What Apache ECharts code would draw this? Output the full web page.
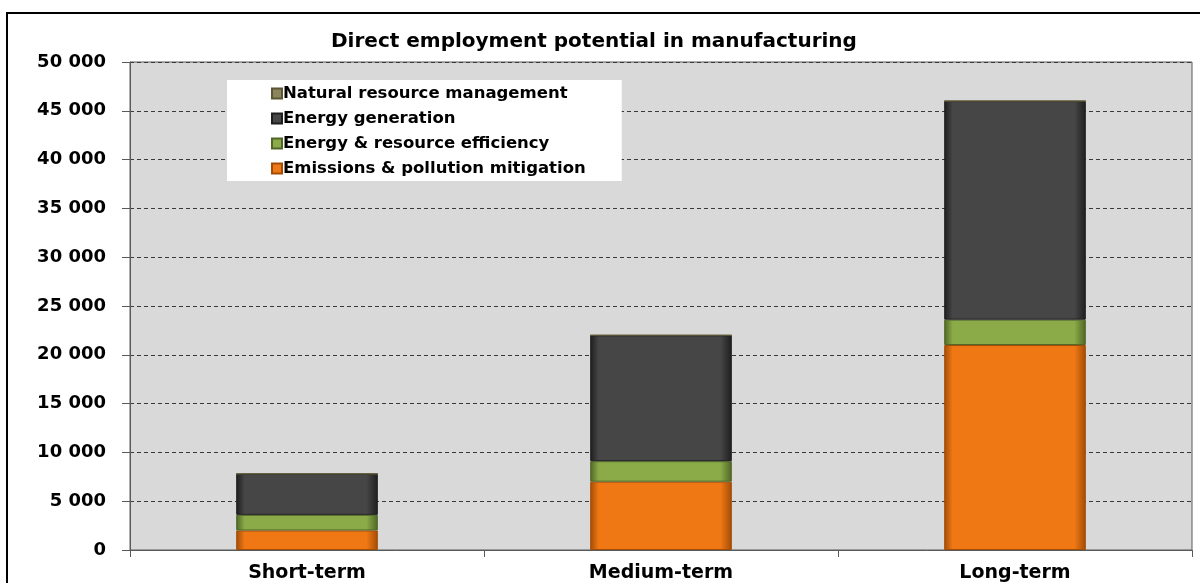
<!DOCTYPE html>
<html>
<head>
<meta charset="utf-8">
<script src="https://cdn.jsdelivr.net/npm/echarts@6/dist/echarts.min.js"></script>
<style>
  html, body { margin: 0; padding: 0; background: #fff; }
  #chart { width: 1200px; height: 583px; }
</style>
</head>
<body>
<div id="chart"></div>
<script>
  // categories and stacked values
  var categories = ['Short-term', 'Medium-term', 'Long-term'];
  var emissions = [2000, 7000, 21000];
  var efficiency = [1600, 2100, 2600];
  var generation = [4200, 12900, 22400];
  var naturalRes = [0, 0, 0];
  var yTicks = { min: 0, max: 50000, step: 5000 };

  // wide bold face, the source text looks stretched sideways
  var font = '"DejaVu Sans", "Noto Sans", sans-serif';

  // fake bevel: darker edges left/right
  function bevel(c, dark) {
    return {
      type: 'linear', x: 0, y: 0, x2: 1, y2: 0,
      colorStops: [
        { offset: 0, color: dark },
        { offset: 0.06, color: c },
        { offset: 0.92, color: c },
        { offset: 1, color: dark }
      ]
    };
  }

  function bar(name, data, c, dark) {
    return {
      name: name,
      type: 'bar',
      stack: 'total',
      barWidth: '40%',
      data: data,
      itemStyle: { color: bevel(c, dark), borderColor: dark, borderWidth: 1 },
      emphasis: { disabled: true }
    };
  }

  function fmt(v) {
    return String(v).replace(/\B(?=(\d{3})+(?!\d))/g, ' ');
  }

  var chart = echarts.init(document.getElementById('chart'));
  chart.setOption({
    animation: false,
    textStyle: { fontFamily: font },
    color: ['#f07814', '#8aab48', '#464646', '#8c845a'],
    title: {
      text: 'Direct employment potential in manufacturing',
      left: 326,
      top: 27,
      textStyle: { fontSize: 20, fontWeight: 'bold', color: '#000', fontFamily: font }
    },
    graphic: [{
      type: 'rect',
      shape: { x: 7, y: 13, width: 1200, height: 600 },
      style: { fill: 'none', stroke: '#000', lineWidth: 2 },
      z: 100
    }],
    legend: {
      orient: 'vertical',
      left: 227,
      top: 80,
      backgroundColor: '#fff',
      padding: [5, 36, 4, 44],
      itemWidth: 10,
      itemHeight: 10,
      itemGap: 8,
      icon: 'rect',
      data: ['Natural resource management', 'Energy generation',
             'Energy & resource efficiency', 'Emissions & pollution mitigation'],
      textStyle: { fontSize: 16.5, fontWeight: 'bold', color: '#000', fontFamily: font, padding: [0, 0, 0, -4] }
    },
    grid: {
      left: 130, right: 8, top: 62, bottom: 32,
      show: true,
      backgroundColor: '#d9d9d9',
      borderColor: '#5a5a5a',
      borderWidth: 1
    },
    xAxis: {
      type: 'category',
      data: categories,
      axisLine: { lineStyle: { color: '#5a5a5a' } },
      axisTick: { show: true, length: 7, lineStyle: { color: '#5a5a5a' } },
      axisLabel: { fontSize: 19, fontWeight: 'bold', color: '#000', margin: 14 }
    },
    yAxis: {
      type: 'value',
      min: yTicks.min, max: yTicks.max, interval: yTicks.step,
      axisLine: { show: true, lineStyle: { color: '#5a5a5a' } },
      axisTick: { show: true, length: 8, lineStyle: { color: '#5a5a5a' } },
      axisLabel: { fontSize: 18, fontWeight: 'bold', color: '#000', margin: 24, formatter: fmt },
      splitLine: { lineStyle: { color: '#3a3a3a', type: [4, 3], width: 1 } }
    },
    series: [
      bar('Emissions & pollution mitigation', emissions, '#f07814', '#a24c06'),
      bar('Energy & resource efficiency', efficiency, '#8aab48', '#4f6626'),
      bar('Energy generation', generation, '#464646', '#1e1e1e'),
      bar('Natural resource management', naturalRes, '#8c845a', '#5a5535')
    ]
  });
</script>
</body>
</html>
